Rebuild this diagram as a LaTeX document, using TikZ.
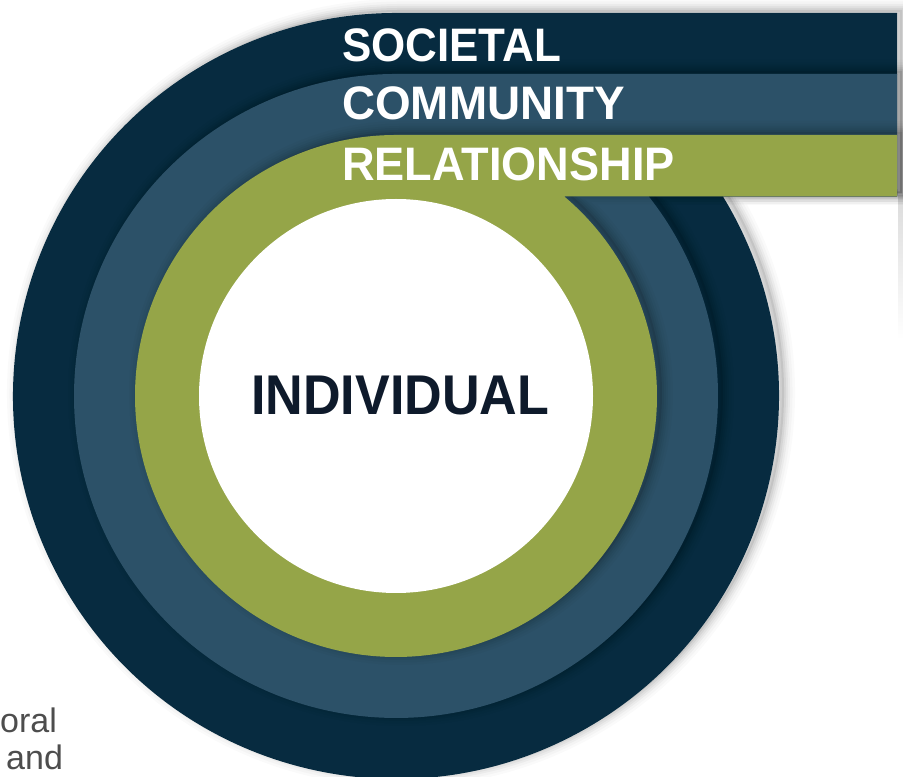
\documentclass[tikz,border=0pt]{standalone}
\usepackage{fontspec}
\setmainfont{Liberation Sans}
\usetikzlibrary{calc}

\definecolor{societal}{RGB}{7,43,64}
\definecolor{community}{RGB}{44,81,104}
\definecolor{relation}{RGB}{149,165,72}
\definecolor{indiv}{RGB}{14,26,43}
\definecolor{bodytext}{RGB}{77,77,77}

% ring + band outline of radius #1 around the common centre
\newcommand\levelfill[2]{%
  \fill[#2] (396,381+#1) -- (897,381+#1) -- (897,580.5)
    -- ({396+#1*cos(asin(199.5/#1))},580.5)
    arc[start angle={asin(199.5/#1)}, end angle=-270, radius=#1] -- cycle;}
\newcommand\levelshadow[1]{%
  \begin{scope}[shift={(5,3)}]
    \levelfill{#1}{black,opacity=0.08}
    \foreach \w/\o in {22/0.02,17/0.025,12/0.035,8/0.04,4/0.05}{
      \draw[line width=\w pt, black, opacity=\o]
        (396,381+#1) -- (897,381+#1) -- (897,580.5)
        -- ({396+#1*cos(asin(199.5/#1))},580.5)
        arc[start angle={asin(199.5/#1)}, end angle=-270, radius=#1] -- cycle;}
  \end{scope}}
\newcommand\level[2]{\levelshadow{#1}\levelfill{#1}{#2}}

\tikzset{
  bandlabel/.style={anchor=base west, inner sep=0pt, text=white,
    font=\bfseries\fontsize{47}{47}\selectfont},
  corelabel/.style={anchor=base west, inner sep=0pt, text=indiv,
    font=\bfseries\fontsize{56}{56}\selectfont},
  sidetext/.style={anchor=base west, inner sep=0pt, text=bodytext,
    font=\fontsize{34}{34}\selectfont}
}

\begin{document}
\begin{tikzpicture}[x=1pt,y=1pt]
  \useasboundingbox (0,0) rectangle (903,777);
  \fill[white] (0,0) rectangle (903,777);
  \clip (0,0) rectangle (903,777);

  % faint shadow running down the right edge
  \shade[top color=black!14, bottom color=white] (898,437) rectangle (903,581);

  % nested levels, outermost first
  \level{383}{societal}
  \level{322}{community}
  \level{261}{relation}
  \fill[white] (396,381) circle[radius=197];

  % labels
  \node[bandlabel] (soc) at (342,715) {\scalebox{0.935}[1]{SOCIETAL}};
  \node[bandlabel] (com) at (342,657.5) {\scalebox{0.975}[1]{COMMUNITY}};
  \node[bandlabel] (rel) at (342,596) {\scalebox{0.96}[1]{RELATIONSHIP}};
  \node[corelabel] (ind) at (251,362) {\scalebox{0.93}[1]{INDIVIDUAL}};

  % text running in from the left
  \node[sidetext] (oral) at (0,44) {oral};
  \node[sidetext] (and) at (6,7) {and};
\end{tikzpicture}
\end{document}
